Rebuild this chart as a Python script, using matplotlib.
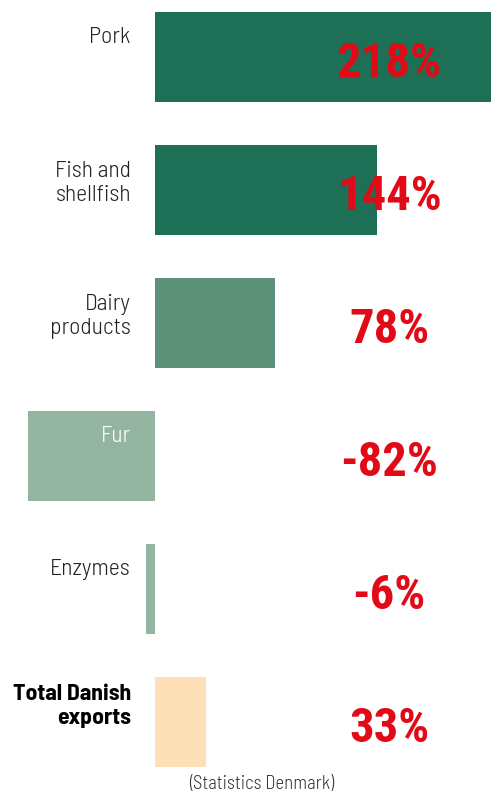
import matplotlib
matplotlib.use("Agg")
import matplotlib.pyplot as plt
from matplotlib import font_manager

categories = ["Pork", "Fish and\nshellfish", "Dairy\nproducts", "Fur", "Enzymes", "Total Danish\nexports"]
values = [218, 144, 78, -82, -6, 33]
value_labels = ["218%", "144%", "78%", "-82%", "-6%", "33%"]
colors = ["#1d7056", "#1d7056", "#5e917a", "#93b5a2", "#93b5a2", "#fde0b8"]
source = "(Statistics Denmark)"

names = {f.name for f in font_manager.fontManager.ttflist}

def pick(cands):
    for c in cands:
        if c in names:
            return c
    return "DejaVu Sans"

label_font = pick(["Barlow Semi Condensed", "Barlow Condensed", "Saira SemiCondensed", "Archivo Narrow"])
value_font = pick(["Roboto Condensed", "Archivo Narrow", "Barlow Semi Condensed", "Saira SemiCondensed"])

fig = plt.figure(figsize=(4.91, 7.96), dpi=100)
ax = fig.add_axes([0, 0, 1, 1])
ypos = list(range(len(values)))
ax.barh(ypos, values, height=0.677, color=colors, left=0)
ax.set_xlim(-100.4, 218)
ax.set_ylim(5.556, -0.4286)
ax.axis("off")

label_x = -15.6
for i, cat in enumerate(categories):
    bold = i == len(categories) - 1
    color = "white" if cat == "Fur" else ("black" if bold else "#222222")
    nlines = cat.count("\n") + 1
    if bold:
        y = i - 0.12
    elif nlines == 1:
        y = i - 0.15
    else:
        y = i - 0.05
    ax.text(label_x, y, cat, ha="right", va="center", fontsize=17,
            family=label_font, fontweight="bold" if bold else 300,
            color=color, linespacing=1.22)

for i, lab in enumerate(value_labels):
    ax.text(152, i + 0.05, lab, ha="center", va="center", fontsize=35,
            family=value_font, fontweight="bold", color="#e30a17")

ax.text(69.5, 5.465, source, ha="center", va="center", fontsize=13.5,
        family=label_font, fontweight=300, color="#333333")

fig.savefig("out.png", dpi=100)
